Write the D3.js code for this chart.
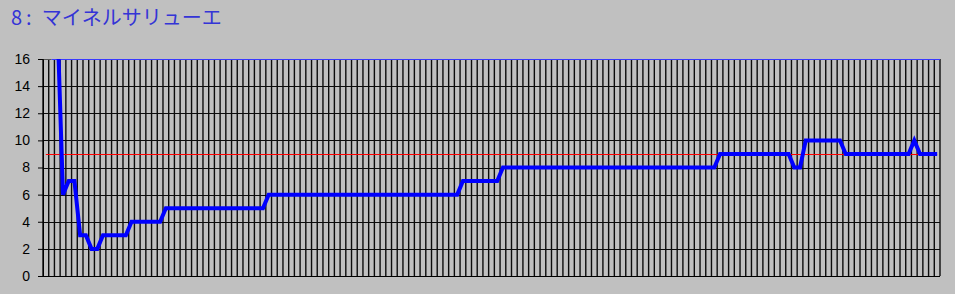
<!DOCTYPE html>
<html>
<head>
<meta charset="utf-8">
<script src="https://cdn.jsdelivr.net/npm/d3@7"></script>
<style>
  html, body { margin: 0; padding: 0; background: #c0c0c0; }
  svg { display: block; }
</style>
</head>
<body>
<div id="chart"></div>
<script>
// -------- Data --------
const title = '8\u2009:\u2002マイネルサリューエ';
const yTicks = [0, 2, 4, 6, 8, 10, 12, 14, 16];
const refValue = 9;
// one value per race / category (first two are above the axis top, not visible)
const ranks = [
  null, null, 19, 6, 7, 7, 3, 3, 2, 2,
  3, 3, 3, 3, 3,
  4, 4, 4, 4, 4, 4,
  5, 5, 5, 5, 5, 5, 5, 5, 5, 5, 5, 5, 5, 5, 5, 5, 5, 5,
  6, 6, 6, 6, 6, 6, 6, 6, 6, 6, 6, 6, 6, 6, 6, 6, 6,
  6, 6, 6, 6, 6, 6, 6, 6, 6, 6, 6, 6, 6, 6, 6, 6, 6,
  7, 7, 7, 7, 7, 7, 7,
  8, 8, 8, 8, 8, 8, 8, 8, 8, 8, 8, 8, 8, 8, 8, 8, 8, 8, 8,
  8, 8, 8, 8, 8, 8, 8, 8, 8, 8, 8, 8, 8, 8, 8, 8, 8, 8, 8,
  9, 9, 9, 9, 9, 9, 9, 9, 9, 9, 9, 9, 9,
  8, 8,
  10, 10, 10, 10, 10, 10, 10,
  9, 9, 9, 9, 9, 9, 9, 9, 9, 9, 9, 9,
  10,
  9, 9, 9, 9
];
const categories = ranks.map((d, i) => i + 1);

// -------- Dimensions --------
const svgWidth = 955, svgHeight = 294;
const margin = { top: 59, right: 15, bottom: 18, left: 43 };
const width = svgWidth - margin.left - margin.right;
const height = svgHeight - margin.top - margin.bottom;

const svg = d3.select('#chart').append('svg')
  .attr('width', svgWidth)
  .attr('height', svgHeight);

svg.append('text')
  .attr('x', 11)
  .attr('y', 25)
  .attr('fill', '#3434d6')
  .style('font-family', '"Noto Sans CJK JP", sans-serif')
  .style('font-size', '20px')
  .style('white-space', 'pre')
  .text(title);

const ctr = svg.append('g')
  .attr('transform', `translate(${margin.left},${margin.top})`);

// -------- Scales --------
const xScale = d3.scaleBand()
  .domain(categories)
  .range([0, width]);

const yScale = d3.scaleLinear()
  .domain([0, 16])
  .range([height, 0]);

const cx = d => xScale(d) + xScale.bandwidth() / 2;
const crisp = v => Math.round(v) + 0.5;

// -------- Grid --------
const gridColor = '#0c0c0c';
const boundaries = categories.map(c => xScale(c)).concat([width]);
ctr.append('g')
  .selectAll('line')
  .data(boundaries)
  .join('line')
    .attr('x1', d => d).attr('x2', d => d)
    .attr('y1', 0).attr('y2', height)
    .attr('stroke', gridColor)
    .attr('stroke-width', 1.4);

ctr.append('g')
  .selectAll('line')
  .data(yTicks.filter(t => t > 0 && t < 16))
  .join('line')
    .attr('x1', 0).attr('x2', width)
    .attr('y1', d => crisp(yScale(d)))
    .attr('y2', d => crisp(yScale(d)))
    .attr('stroke', gridColor);

// top frame (blue from the second category on)
ctr.append('line')
  .attr('x1', 0).attr('x2', cx(categories[1]))
  .attr('y1', 0.5).attr('y2', 0.5)
  .attr('stroke', '#555');
ctr.append('line')
  .attr('x1', cx(categories[1])).attr('x2', width)
  .attr('y1', 0.5).attr('y2', 0.5)
  .attr('stroke', '#3a3aff');

// -------- Axes --------
const yAxis = ctr.append('g')
  .call(d3.axisLeft(yScale).tickValues(yTicks).tickSize(5).tickPadding(8))
  .call(g => g.select('.domain').attr('stroke', '#000'));
yAxis.selectAll('.tick line').attr('stroke', '#000');
yAxis.selectAll('.tick text')
  .attr('fill', '#000')
  .style('font-family', '"Liberation Sans", Arial, sans-serif')
  .style('font-size', '14px');

ctr.append('line')
  .attr('x1', -5).attr('x2', width)
  .attr('y1', height + 0.5).attr('y2', height + 0.5)
  .attr('stroke', '#000');

// -------- Reference line --------
ctr.append('line')
  .attr('x1', cx(categories[0]))
  .attr('x2', cx(categories[categories.length - 1]))
  .attr('y1', crisp(yScale(refValue))).attr('y2', crisp(yScale(refValue)))
  .attr('stroke', '#ff0000')
  .attr('stroke-width', 1);

// -------- Rank line --------
ctr.append('clipPath').attr('id', 'plot-clip')
  .append('rect').attr('width', width).attr('height', height);

const line = d3.line()
  .defined(d => d.v != null)
  .x(d => cx(d.c))
  .y(d => yScale(d.v));

ctr.append('path')
  .datum(categories.map((c, i) => ({ c, v: ranks[i] })))
  .attr('clip-path', 'url(#plot-clip)')
  .attr('fill', 'none')
  .attr('stroke', '#0000ff')
  .attr('stroke-width', 4)
  .attr('stroke-linejoin', 'miter')
  .attr('d', line);
</script>
</body>
</html>
